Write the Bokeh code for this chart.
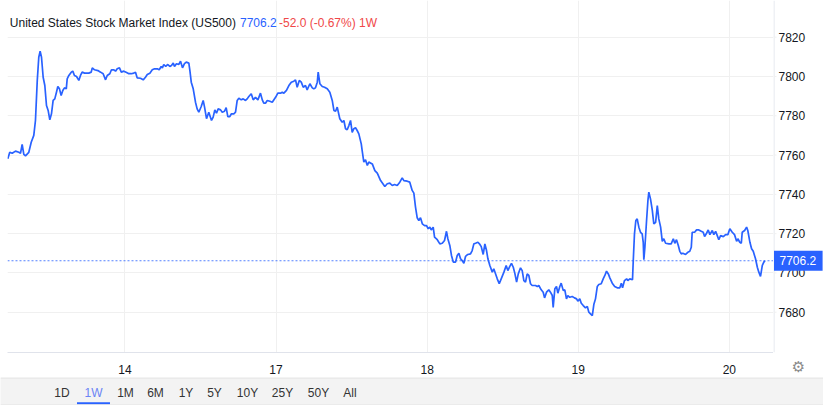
from bokeh.plotting import figure
from bokeh.models import Range1d, FixedTicker, Span, Label
from bokeh.layouts import column, row
from bokeh.embed import file_html
from bokeh.resources import INLINE
from bokeh.core.properties import value

# ---------------- data ----------------
# x: trading-session position (0 = 14th, 1 = 17th, 2 = 18th, 3 = 19th, 4 = 20th)
t = [
    -0.775, -0.762, -0.746, -0.724, -0.702, -0.691, -0.680, -0.669, -0.658, -0.636,
    -0.620, -0.603, -0.592, -0.580, -0.570, -0.561, -0.552, -0.541, -0.530, -0.519,
    -0.508, -0.497, -0.486, -0.475, -0.464, -0.453, -0.444, -0.433, -0.422, -0.411,
    -0.400, -0.388, -0.382, -0.371, -0.355, -0.345, -0.334, -0.320, -0.305, -0.294,
    -0.283, -0.267, -0.239, -0.223, -0.216, -0.201, -0.179, -0.161, -0.144, -0.128,
    -0.117, -0.100, -0.089, -0.073, -0.062, -0.051, -0.036, -0.024, -0.007, 0.011,
    0.026, 0.042, 0.059, 0.070, 0.081, 0.103, 0.121, 0.136, 0.148, 0.165,
    0.181, 0.196, 0.214, 0.227, 0.240, 0.248, 0.257, 0.270, 0.284, 0.297,
    0.308, 0.320, 0.328, 0.341, 0.357, 0.368, 0.381, 0.394, 0.406, 0.423,
    0.430, 0.439, 0.452, 0.467, 0.478, 0.489, 0.505, 0.518, 0.527, 0.540,
    0.555, 0.573, 0.584, 0.595, 0.606, 0.617, 0.633, 0.644, 0.659, 0.670,
    0.681, 0.694, 0.705, 0.721, 0.732, 0.743, 0.754, 0.770, 0.783, 0.798,
    0.809, 0.820, 0.836, 0.849, 0.864, 0.880, 0.897, 0.909, 0.919, 0.930,
    0.942, 0.959, 0.975, 0.997, 1.012, 1.030, 1.041, 1.052, 1.069, 1.085,
    1.101, 1.118, 1.129, 1.140, 1.154, 1.167, 1.180, 1.195, 1.206, 1.224,
    1.240, 1.250, 1.261, 1.273, 1.279, 1.290, 1.306, 1.321, 1.339, 1.356,
    1.372, 1.383, 1.394, 1.405, 1.422, 1.438, 1.449, 1.460, 1.471, 1.482,
    1.493, 1.504, 1.515, 1.526, 1.537, 1.548, 1.564, 1.570, 1.581, 1.592,
    1.604, 1.614, 1.637, 1.654, 1.670, 1.692, 1.720, 1.736, 1.753, 1.769,
    1.784, 1.802, 1.819, 1.835, 1.846, 1.868, 1.885, 1.901, 1.912, 1.923,
    1.934, 1.945, 1.956, 1.968, 1.983, 1.996, 2.007, 2.018, 2.027, 2.040,
    2.049, 2.067, 2.084, 2.100, 2.115, 2.128, 2.137, 2.150, 2.161, 2.173,
    2.188, 2.199, 2.210, 2.221, 2.232, 2.243, 2.254, 2.269, 2.287, 2.298,
    2.309, 2.320, 2.336, 2.349, 2.358, 2.371, 2.382, 2.393, 2.402, 2.415,
    2.431, 2.441, 2.453, 2.464, 2.477, 2.490, 2.508, 2.523, 2.534, 2.547,
    2.558, 2.570, 2.580, 2.592, 2.603, 2.618, 2.629, 2.640, 2.651, 2.662,
    2.673, 2.684, 2.695, 2.717, 2.729, 2.739, 2.755, 2.768, 2.777, 2.790,
    2.805, 2.816, 2.828, 2.834, 2.845, 2.856, 2.865, 2.878, 2.887, 2.901,
    2.911, 2.922, 2.931, 2.944, 2.960, 2.975, 2.989, 2.997, 3.010, 3.020,
    3.033, 3.048, 3.060, 3.070, 3.081, 3.093, 3.103, 3.114, 3.126, 3.136,
    3.152, 3.165, 3.176, 3.187, 3.199, 3.209, 3.225, 3.241, 3.258, 3.275,
    3.285, 3.293, 3.306, 3.320, 3.328, 3.341, 3.359, 3.364, 3.372, 3.381,
    3.390, 3.401, 3.412, 3.423, 3.430, 3.434, 3.441, 3.452, 3.461, 3.467,
    3.478, 3.490, 3.500, 3.512, 3.523, 3.533, 3.545, 3.556, 3.566, 3.578,
    3.600, 3.615, 3.629, 3.639, 3.650, 3.662, 3.672, 3.682, 3.692, 3.710,
    3.725, 3.738, 3.748, 3.754, 3.770, 3.783, 3.798, 3.814, 3.827, 3.836,
    3.849, 3.860, 3.871, 3.887, 3.897, 3.909, 3.920, 3.930, 3.942, 3.960,
    3.975, 3.990, 4.003, 4.019, 4.034, 4.048, 4.056, 4.069, 4.079, 4.085,
    4.101, 4.114, 4.122, 4.136, 4.147, 4.158, 4.173, 4.185, 4.195, 4.206,
    4.218, 4.228, 4.235,
]
price = [
    7758.1, 7761.4, 7760.9, 7762.0, 7761.4, 7760.9, 7765.4, 7760.3, 7759.6, 7761.4,
    7766.5, 7770.0, 7777.6, 7798.0, 7809.8, 7812.9, 7809.8, 7799.6, 7795.4, 7785.2,
    7782.7, 7777.9, 7781.0, 7787.8, 7788.6, 7792.0, 7794.9, 7793.7, 7790.3, 7792.9,
    7794.2, 7793.7, 7798.8, 7800.5, 7802.2, 7802.7, 7800.5, 7800.0, 7798.0, 7800.5,
    7802.2, 7801.7, 7801.7, 7802.2, 7804.4, 7803.4, 7803.0, 7802.2, 7801.4, 7798.3,
    7800.5, 7801.4, 7803.4, 7803.4, 7802.7, 7803.9, 7804.4, 7802.2, 7802.7, 7802.0,
    7801.4, 7801.4, 7801.7, 7802.2, 7799.3, 7799.1, 7798.3, 7799.6, 7801.0, 7801.7,
    7803.4, 7803.9, 7803.9, 7803.4, 7805.1, 7804.4, 7806.1, 7805.1, 7806.1, 7805.1,
    7805.6, 7806.8, 7805.1, 7806.5, 7806.1, 7807.8, 7804.4, 7806.5, 7807.3, 7806.8,
    7803.0, 7797.1, 7793.7, 7786.9, 7783.5, 7781.8, 7784.7, 7787.8, 7784.4, 7778.5,
    7781.8, 7777.6, 7779.3, 7783.0, 7781.3, 7783.5, 7783.0, 7781.8, 7782.3, 7784.1,
    7779.6, 7779.6, 7781.0, 7781.0, 7781.8, 7787.8, 7788.9, 7788.1, 7788.6, 7787.8,
    7788.6, 7789.8, 7791.2, 7788.1, 7789.4, 7788.1, 7791.5, 7788.1, 7786.4, 7786.4,
    7787.8, 7787.4, 7786.9, 7789.4, 7791.5, 7791.5, 7792.0, 7791.5, 7792.9, 7795.4,
    7797.1, 7797.6, 7798.3, 7794.5, 7798.0, 7797.1, 7794.5, 7795.4, 7793.2, 7796.3,
    7794.2, 7793.7, 7794.2, 7797.1, 7802.2, 7796.3, 7794.9, 7794.5, 7793.7, 7792.0,
    7787.8, 7782.7, 7782.3, 7784.4, 7778.5, 7776.7, 7777.6, 7773.4, 7772.9, 7775.0,
    7777.6, 7771.6, 7773.4, 7773.9, 7772.5, 7770.8, 7765.7, 7762.3, 7756.4, 7757.6,
    7754.7, 7756.4, 7755.5, 7752.1, 7750.8, 7747.0, 7744.0, 7745.4, 7745.7, 7744.5,
    7745.0, 7744.5, 7746.2, 7748.4, 7747.0, 7746.7, 7746.2, 7742.0, 7740.6, 7733.5,
    7728.1, 7726.7, 7728.1, 7725.0, 7724.1, 7724.1, 7722.5, 7723.3, 7721.9, 7723.3,
    7718.2, 7716.9, 7714.8, 7715.1, 7716.5, 7721.2, 7717.4, 7714.0, 7708.9, 7705.5,
    7705.5, 7708.9, 7710.0, 7707.2, 7706.3, 7704.9, 7708.4, 7709.4, 7709.7, 7711.4,
    7714.8, 7715.1, 7715.6, 7714.5, 7713.4, 7709.4, 7714.8, 7711.4, 7707.2, 7703.8,
    7700.4, 7702.1, 7699.5, 7697.0, 7694.5, 7697.0, 7700.4, 7703.8, 7701.2, 7703.3,
    7704.9, 7702.9, 7699.9, 7695.3, 7699.5, 7702.6, 7701.2, 7696.1, 7695.3, 7699.5,
    7698.7, 7694.5, 7693.6, 7693.6, 7693.1, 7693.6, 7691.4, 7690.2, 7687.3, 7690.2,
    7691.4, 7690.2, 7688.5, 7682.5, 7691.9, 7693.1, 7689.7, 7693.1, 7694.8, 7691.0,
    7691.4, 7686.8, 7688.5, 7687.6, 7688.0, 7687.3, 7686.8, 7685.6, 7686.8, 7684.6,
    7683.4, 7682.2, 7682.9, 7680.0, 7679.2, 7678.3, 7683.9, 7686.8, 7693.1, 7694.1,
    7694.5, 7697.0, 7698.7, 7700.9, 7699.5, 7697.5, 7694.8, 7693.1, 7692.4, 7692.4,
    7694.8, 7692.4, 7696.1, 7697.0, 7696.1, 7697.0, 7696.5, 7706.3, 7719.9, 7726.7,
    7727.5, 7723.3, 7720.7, 7719.9, 7715.6, 7706.7, 7713.1, 7726.7, 7736.9, 7741.1,
    7737.7, 7731.8, 7725.0, 7725.8, 7734.3, 7727.5, 7723.3, 7716.1, 7717.4, 7715.1,
    7714.8, 7714.8, 7717.4, 7715.1, 7716.9, 7714.0, 7711.0, 7709.7, 7710.0, 7709.4,
    7710.5, 7711.0, 7713.1, 7720.7, 7720.7, 7721.9, 7721.9, 7721.2, 7720.7, 7718.5,
    7720.2, 7721.9, 7719.5, 7721.6, 7719.5, 7721.2, 7719.0, 7716.9, 7719.0, 7718.5,
    7719.5, 7719.5, 7722.5, 7720.7, 7719.5, 7716.1, 7717.4, 7715.6, 7715.1, 7720.7,
    7721.6, 7723.3, 7721.6, 7715.6, 7712.3, 7711.0, 7707.2, 7702.9, 7700.4, 7698.2,
    7703.8, 7705.5, 7706.2,
]

day_ticks = [0, 1, 2, 3, 4]
day_labels = ["14", "17", "18", "19", "20"]
price_ticks = [7680, 7700, 7720, 7740, 7760, 7780, 7800, 7820]

index_name = "United States Stock Market Index (US500)"
last_price = 7706.2
change_text = "-52.0 (-0.67%) 1W"
range_buttons = ["1D", "1W", "1M", "6M", "1Y", "5Y", "10Y", "25Y", "50Y", "All"]
active_button = "1W"

# ---------------- styles / layout ----------------
FONT = "Liberation Sans"
BLUE = "#2962ff"
RED = "#f04848"
TEXT = "#131722"
GRID = "#f0f0f0"
AXIS = "#e0e3eb"
BAR_BG = "#f3f3f3"

FRAME_W, FRAME_H = 766, 352
LEFT_PAD, BOTTOM_H, SCALE_W, BAR_H = 7, 25, 50, 28
X_RANGE = (-0.777, 4.292)
Y_RANGE = (7659.5, 7838.67)
px = (Y_RANGE[1] - Y_RANGE[0]) / FRAME_H   # price units per pixel


def y_at(screen_y):
    """price value at a given pixel row (0 = top of chart)"""
    return Y_RANGE[1] - screen_y * px


yr = Range1d(*Y_RANGE)

# ---- main chart ----
p = figure(
    frame_width=FRAME_W, frame_height=FRAME_H,
    min_border_left=LEFT_PAD, min_border_top=0, min_border_right=0, min_border_bottom=BOTTOM_H,
    x_range=Range1d(*X_RANGE), y_range=yr,
    y_axis_location=None,
    toolbar_location=None, output_backend="svg",
)
p.outline_line_color = None
p.background_fill_color = "white"
p.border_fill_color = "white"

p.xaxis.ticker = FixedTicker(ticks=day_ticks)
p.xaxis.major_label_overrides = {k: v for k, v in zip(day_ticks, day_labels)}
p.xaxis.axis_line_color = AXIS
p.xaxis.major_tick_line_color = None
p.xaxis.minor_tick_line_color = None
p.xaxis.major_label_text_font = FONT
p.xaxis.major_label_text_font_size = "12px"
p.xaxis.major_label_text_color = TEXT
p.xaxis.major_label_standoff = 6

p.xgrid.grid_line_color = GRID
for g in p.ygrid:
    g.axis = None
    g.ticker = FixedTicker(ticks=price_ticks)
    g.grid_line_color = GRID

p.line(t, price, line_color=BLUE, line_width=1.7)

p.add_layout(Span(location=last_price, dimension="width", line_color=BLUE,
                  line_alpha=0.8, line_dash="2 2", line_width=1))

# title line (positions relative to the chart frame)
title_parts = [(index_name, TEXT, 2.3), (f"{last_price:.1f}", BLUE, 232.5), (change_text, RED, 271.5)]
for txt, col, xoff in title_parts:
    p.add_layout(Label(x=xoff, y=FRAME_H - 22, x_units="screen", y_units="screen",
                       text=txt, text_color=col, text_font=FONT, text_font_size="12px",
                       text_align="left", text_baseline="middle"))

# ---- price scale on the right (shares the price range) ----
s = figure(
    frame_width=SCALE_W, frame_height=FRAME_H,
    x_range=Range1d(0, SCALE_W), y_range=yr,
    x_axis_location=None, y_axis_location=None,
    min_border_left=0, min_border_right=0, min_border_top=0, min_border_bottom=BOTTOM_H,
    toolbar_location=None, output_backend="svg",
)
s.grid.visible = False
s.outline_line_color = None
s.background_fill_color = "white"
s.border_fill_color = "white"

s.segment(x0=[0.5], y0=[Y_RANGE[0]], x1=[0.5], y1=[Y_RANGE[1]],
          line_color=AXIS, line_width=1)
s.segment(x0=[0] * len(price_ticks), y0=price_ticks, x1=[3] * len(price_ticks), y1=price_ticks,
          line_color=GRID, line_width=1)
s.text(x=[5] * len(price_ticks), y=price_ticks, text=[str(v) for v in price_ticks],
       text_font=value(FONT), text_font_size="12px", text_color=TEXT,
       text_align="left", text_baseline="middle")
s.rect(x=[24.8], y=[last_price], width=48.6, height=20, height_units="screen",
       fill_color=BLUE, line_color=None)
s.text(x=[6], y=[last_price], text=[f"{last_price:.1f}"],
       text_font=value(FONT), text_font_size="12px", text_color="white",
       text_align="left", text_baseline="middle")

# settings gear + separator in the area under the price scale
s.add_layout(Label(x=25, y=y_at(366), x_units="data", y_units="data", text="\u2699",
                   text_color="#8a8a8a", text_font="DejaVu Sans", text_font_size="15px",
                   text_align="center", text_baseline="middle"), "below")

# ---- range selector bar ----
TOTAL_W = LEFT_PAD + FRAME_W + SCALE_W
bar = figure(width=TOTAL_W, height=BAR_H, x_range=Range1d(0, TOTAL_W), y_range=Range1d(0, BAR_H),
             x_axis_location=None, y_axis_location=None, min_border=0,
             toolbar_location=None, output_backend="svg")
bar.grid.visible = False
bar.outline_line_color = None
bar.background_fill_color = BAR_BG
bar.border_fill_color = BAR_BG

btn_x = [61.5, 93, 125, 155, 185.5, 214, 247, 282, 318, 349.5]
btn_colors = ["#6b84f5" if b == active_button else "#333333" for b in range_buttons]
bar.text(x=btn_x, y=[12.3] * len(range_buttons), text=range_buttons,
         text_color=btn_colors, text_font=value(FONT), text_font_size="12px",
         text_align="center", text_baseline="middle")
ai = range_buttons.index(active_button)
bar.segment(x0=[btn_x[ai] - 16.5], y0=[2.3], x1=[btn_x[ai] + 16.5], y1=[2.3],
            line_color=BLUE, line_width=2)
bar.add_layout(Span(location=BAR_H - 0.5, dimension="width", line_color="#e2e2e2", line_width=1))
bar.add_layout(Span(location=0.5, dimension="width", line_color="#e2e2e2", line_width=1))

layout = column(row(p, s, spacing=0), bar, spacing=0)

with open("out.html", "w") as f:
    f.write(file_html(layout, INLINE))
